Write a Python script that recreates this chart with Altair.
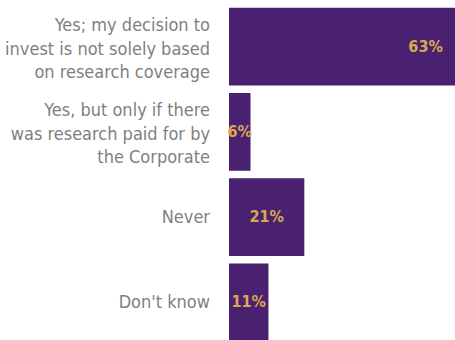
import altair as alt
import pandas as pd

# Survey answers (multi-line labels split on "|") and their shares in percent
answers = [
    "Yes; my decision to|invest is not solely based|on research coverage",
    "Yes, but only if there|was research paid for by|the Corporate",
    "Never",
    "Don't know",
]
shares = [63, 6, 21, 11]

df = pd.DataFrame({"answer": answers, "share": shares})

PURPLE = "#4a2170"
GOLD = "#d9a84e"
GREY = "#7f7f7f"
FONT = "DejaVu Sans Condensed, Liberation Sans Narrow, sans-serif"
LINE_H = 23.5

y_enc = alt.Y(
    "answer:N",
    sort=answers,
    scale=alt.Scale(paddingInner=0.086, paddingOuter=0.043),
    axis=None,
)

x_scale = alt.Scale(domain=[0, 63], nice=False, zero=True)

base = alt.Chart(df)

bars = base.mark_bar(color=PURPLE, cornerRadius=0).encode(
    x=alt.X("share:Q", scale=x_scale, axis=None),
    y=y_enc,
)

# Category labels to the left of the bars; three-line labels are lifted so the block is centred
label_style = dict(
    align="right",
    baseline="middle",
    font=FONT,
    fontSize=18,
    color=GREY,
    lineBreak="|",
    lineHeight=LINE_H,
)
multi_labels = (
    base.transform_filter("indexof(datum.answer, '|') >= 0")
    .mark_text(dy=-LINE_H + 3, **label_style)
    .encode(x=alt.value(-19), y=alt.Y("answer:N", sort=answers, axis=None), text="answer:N")
)
single_labels = (
    base.transform_filter("indexof(datum.answer, '|') < 0")
    .mark_text(dy=1, **label_style)
    .encode(x=alt.value(-19), y=alt.Y("answer:N", sort=answers, axis=None), text="answer:N")
)

# Value labels: centred in the bar, pulled in from the end on the long bar
values = (
    base.transform_calculate(
        pos="datum.share > 40 ? datum.share - 8.2 : datum.share / 2",
        txt="datum.share + '%'",
    )
    .mark_text(color=GOLD, font=FONT, fontSize=16, fontWeight="bold", align="center", baseline="middle")
    .encode(
        x=alt.X("pos:Q", scale=x_scale, axis=None),
        y=alt.Y("answer:N", sort=answers, axis=None),
        text="txt:N",
    )
)

chart = (
    alt.layer(bars, multi_labels, single_labels, values)
    .properties(
        width=226,
        height=341,
        background="white",
        autosize=alt.AutoSizeParams(type="none"),
        padding={"left": 229, "top": 4, "right": 0, "bottom": 0},
    )
    .configure_view(stroke=None)
)

chart.save("out.html", embed_options={"renderer": "svg", "actions": False})
